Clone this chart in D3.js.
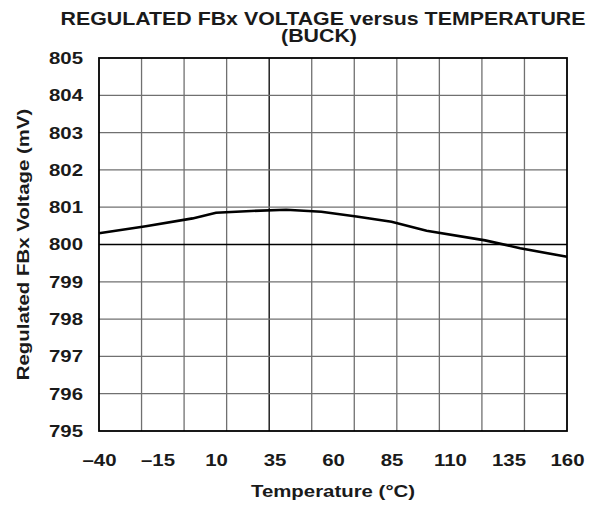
<!DOCTYPE html>
<html>
<head>
<meta charset="UTF-8">
<title>Regulated FBx voltage versus temperature</title>
<script src="https://d3js.org/d3.v7.min.js"></script>
<style>
	body { margin: 0; background: #fff; }
	text { font-family: "Liberation Sans", Arial, sans-serif; font-weight: bold; fill: #1a1a1a; }
</style>
</head>
<body>
<div id="chart"></div>
<script>
// values
var temperature = [-40, -20, 0, 10, 25, 40, 55, 70, 85, 100, 125, 140, 160];
var voltage = [800.30, 800.49, 800.70, 800.85, 800.90, 800.93, 800.88, 800.75, 800.61, 800.37, 800.11, 799.90, 799.67];
var xTicks = [-40, -15, 10, 35, 60, 85, 110, 135, 160];
var yTicks = [795, 796, 797, 798, 799, 800, 801, 802, 803, 804, 805];
var titleLines = ["REGULATED FBx VOLTAGE versus TEMPERATURE", "(BUCK)"];

var width = 594, height = 508;
var margin = {top: 58, right: 27, bottom: 77, left: 99};
var wide = 1.2; // the datasheet font is a wide helvetica

var svg = d3.select("#chart").append("svg")
	.attr("width", width)
	.attr("height", height);

var x = d3.scaleLinear().domain([-40, 160]).range([margin.left, width - margin.right]);
var y = d3.scaleLinear().domain([795, 805]).range([height - margin.bottom, margin.top]);

// the vertical grid has 11 columns, not lined up with the labels
var xGrid = d3.range(1, 11).map(function(i) { return -40 + i * 200 / 11; });

var grid = svg.append("g");
grid.selectAll(".vg")
	.data(xGrid)
	.enter().append("line")
	.attr("x1", function(d) { return x(d); })
	.attr("x2", function(d) { return x(d); })
	.attr("y1", y(795))
	.attr("y2", y(805))
	.attr("stroke", function(d, i) { return i == 3 ? "#000" : "#707070"; })
	.attr("stroke-width", 1.3);

grid.selectAll(".hg")
	.data(yTicks.slice(1, -1))
	.enter().append("line")
	.attr("x1", x(-40))
	.attr("x2", x(160))
	.attr("y1", function(d) { return y(d); })
	.attr("y2", function(d) { return y(d); })
	.attr("stroke", function(d) { return d == 800 ? "#000" : "#707070"; })
	.attr("stroke-width", 1.3);

svg.append("rect")
	.attr("x", x(-40))
	.attr("y", y(805))
	.attr("width", x(160) - x(-40))
	.attr("height", y(795) - y(805))
	.attr("fill", "none")
	.attr("stroke", "#000")
	.attr("stroke-width", 1.8);

var line = d3.line()
	.x(function(d, i) { return x(temperature[i]); })
	.y(function(d) { return y(d); });

svg.append("path")
	.datum(voltage)
	.attr("d", line)
	.attr("fill", "none")
	.attr("stroke", "#000")
	.attr("stroke-width", 2.6);

// axes: labels only
var xAxis = svg.append("g")
	.attr("transform", "translate(0," + y(795) + ")")
	.call(d3.axisBottom(x).tickValues(xTicks).tickSize(0).tickPadding(23)
		.tickFormat(function(d) { return d < 0 ? "\u2013" + Math.abs(d) : d; }));
xAxis.select(".domain").remove();
xAxis.selectAll("text")
	.style("font-size", "17px")
	.attr("fill", "#1a1a1a")
	.attr("transform", "scale(" + wide + ",1)");

var yAxis = svg.append("g")
	.attr("transform", "translate(" + x(-40) + ",0)")
	.call(d3.axisLeft(y).tickValues(yTicks).tickSize(0).tickPadding(16));
yAxis.select(".domain").remove();
yAxis.selectAll("text")
	.style("font-size", "17px")
	.attr("fill", "#1a1a1a")
	.attr("transform", "translate(-16,0) scale(" + wide + ",1) translate(16,0)");

var cx = (x(-40) + x(160)) / 2;
svg.append("text")
	.attr("transform", "translate(" + cx + ",497) scale(" + wide + ",1)")
	.attr("text-anchor", "middle")
	.style("font-size", "17px")
	.text("Temperature (\u00b0C)");

svg.append("text")
	.attr("transform", "translate(29," + (y(795) + y(805)) / 2 + ") rotate(-90) scale(" + wide + ",1)")
	.attr("text-anchor", "middle")
	.style("font-size", "17px")
	.text("Regulated FBx Voltage (mV)");

svg.selectAll(".title")
	.data(titleLines)
	.enter().append("text")
	.attr("transform", function(d, i) {
		return "translate(" + (i == 0 ? 323 : 319) + "," + (25 + i * 17) + ") scale(1.22,1)";
	})
	.attr("text-anchor", "middle")
	.style("font-size", "17.5px")
	.text(function(d) { return d; });
</script>
</body>
</html>
